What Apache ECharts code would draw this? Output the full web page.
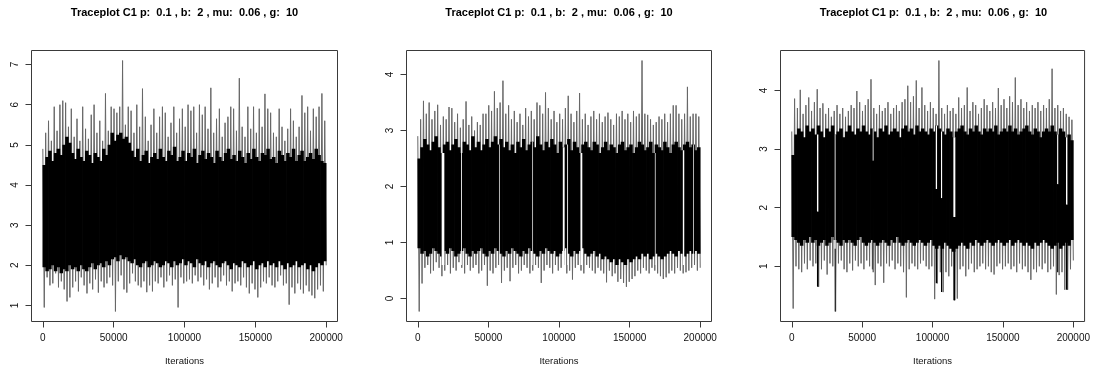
<!DOCTYPE html>
<html><head><meta charset="utf-8">
<script src="https://cdn.jsdelivr.net/npm/echarts@6/dist/echarts.min.js"></script>
<style>html,body{margin:0;padding:0;background:#fff}#c{width:1093px;height:372px}</style>
</head><body><div id="c"></div>
<script>
// ---------------- data ----------------
const titleText = 'Traceplot C1 p:  0.1 , b:  2 , mu:  0.06 , g:  10';
const xName = 'Iterations';
const totalIter = 200000;
const xTicks = [0, 50000, 100000, 150000, 200000];
const yTicks1 = [1, 2, 3, 4, 5, 6, 7];
const yTicks2 = [0, 1, 2, 3, 4];
const yTicks3 = [1, 2, 3, 4];

// outer envelope of the trace (per 2000-iteration bin): spike tops / spike bottoms
const hi1 = [4.9,5.3,5.6,5.1,5.95,5.35,6.0,6.1,6.05,5.45, 5.9,5.2,5.65,5.1,5.95,5.4,5.15,5.75,6.0,5.3,
  5.6,5.1,6.28,5.35,5.95,5.9,5.8,5.95,7.1,5.5, 5.95,5.85,5.3,6.0,5.45,6.4,5.7,5.1,5.5,5.9,
  5.3,5.7,5.95,5.8,5.2,5.55,5.95,5.3,5.65,5.9, 5.45,6.0,5.85,5.95,5.3,6.0,5.75,5.95,5.4,6.42,
  5.3,5.65,5.9,5.2,5.55,5.7,5.95,5.9,5.35,6.66, 5.45,5.2,5.95,5.4,5.95,5.3,5.9,5.45,6.27,5.9,
  5.8,5.3,5.2,5.9,5.45,5.1,5.4,5.9,5.6,5.2, 5.45,6.23,5.8,5.95,5.35,5.9,5.7,5.95,6.28,5.6];
const lo1 = [0.95,1.7,1.5,1.55,1.8,1.45,1.6,1.4,1.1,1.2, 1.45,1.6,1.35,1.7,1.5,1.3,1.55,1.4,1.65,1.32,
  1.6,1.45,1.55,1.7,1.5,0.85,1.6,1.75,1.4,1.32, 1.55,1.8,1.6,1.5,1.45,1.6,1.33,1.5,1.35,1.6,
  1.55,1.7,1.45,1.6,1.75,1.5,1.65,0.95,1.7,1.55, 1.6,1.65,1.55,1.75,1.6,1.7,1.5,1.65,1.4,1.55,
  1.7,1.45,1.6,1.75,1.5,1.6,1.35,1.55,1.6,1.5, 1.7,1.45,1.3,1.55,1.4,1.2,1.45,1.6,1.55,1.7,
  1.5,1.45,1.6,1.75,1.5,1.55,1.02,1.45,1.3,1.55, 1.4,1.3,1.5,1.35,1.25,1.18,1.4,1.5,1.35,2.0];
// dense (solid black) core of the trace (per 2000-iteration bin)
const coreHi1 = [4.5,4.7,4.85,4.6,4.8,4.9,4.75,5.0,5.2,5.05, 4.8,4.65,4.9,4.7,4.6,4.85,4.75,4.55,4.8,4.7,
  4.6,4.9,4.75,5.0,5.3,5.1,5.25,5.3,5.15,5.2, 5.05,4.85,4.7,4.9,4.6,4.75,4.85,4.55,4.7,4.8,
  4.65,4.9,4.7,4.6,4.85,4.75,4.95,4.6,4.7,4.85, 4.6,4.8,4.7,4.9,4.55,4.75,4.85,4.65,4.8,4.7,
  4.55,4.85,4.7,4.6,4.8,4.9,4.65,4.75,4.6,4.85, 4.7,4.55,4.8,4.65,4.9,4.7,4.6,4.8,4.75,4.9,
  4.65,4.7,4.55,4.85,4.75,4.6,4.8,4.7,4.9,4.6, 4.75,4.85,4.6,4.7,4.8,4.65,4.9,4.75,4.6,4.55];
const coreLo1 = [1.95,1.85,1.9,2.0,1.85,1.95,1.8,1.9,1.85,2.0, 1.9,1.95,1.85,2.0,1.9,1.85,1.95,2.05,1.9,2.0,
  2.05,1.95,2.1,2.0,2.15,2.2,2.1,2.25,2.15,2.2, 2.1,2.05,2.15,2.0,1.95,2.05,2.1,1.95,2.0,2.1,
  2.05,1.95,2.0,2.1,2.05,1.95,2.1,2.0,2.05,2.15, 2.0,2.1,2.05,1.95,2.15,2.05,2.0,2.1,1.95,2.05,
  2.1,2.0,1.95,2.05,2.1,2.0,1.9,2.05,2.0,1.95, 2.1,2.05,1.95,2.0,2.1,1.9,2.0,2.05,1.95,2.1,
  2.0,2.05,1.95,2.1,2.0,1.9,2.05,1.95,2.0,2.1, 1.95,2.0,2.05,1.9,2.0,1.85,1.95,2.05,2.0,2.1];
const stuck1 = [];

const hi2 = [2.9,3.2,3.53,3.3,3.5,3.2,3.35,3.46,3.1,3.25, 3.2,3.42,3.4,3.15,3.3,3.05,3.2,3.52,3.1,3.25,
  3.0,3.15,3.1,3.3,3.3,3.45,3.35,3.7,3.4,3.5, 3.89,3.3,3.45,3.2,3.35,3.15,3.3,3.1,3.4,3.25,
  3.35,3.2,3.5,3.45,3.3,3.68,3.4,3.2,3.35,3.15, 3.3,3.2,3.4,3.62,3.3,3.15,3.35,3.67,3.2,3.3,
  3.1,3.25,3.35,3.2,3.3,3.15,3.25,3.32,3.2,3.1, 3.3,3.25,3.35,3.2,3.3,3.15,3.35,3.25,3.3,4.25,
  3.3,3.28,3.2,3.1,3.15,3.25,3.2,3.3,3.15,3.3, 3.45,3.45,3.3,3.2,3.3,3.78,3.25,3.3,3.3,3.25];
const lo2 = [-0.23,0.27,0.55,0.6,0.45,0.5,0.65,0.55,0.4,0.5, 0.6,0.45,0.55,0.5,0.65,0.55,0.45,0.6,0.5,0.55,
  0.6,0.45,0.5,0.6,0.23,0.5,0.45,0.55,0.6,0.28, 0.5,0.55,0.31,0.55,0.6,0.45,0.5,0.6,0.55,0.45,
  0.5,0.6,0.55,0.28,0.5,0.6,0.55,0.45,0.6,0.5, 0.55,0.6,0.45,0.5,0.34,0.55,0.6,0.5,0.45,0.6,
  0.55,0.5,0.45,0.55,0.5,0.45,0.29,0.5,0.4,0.45, 0.3,0.35,0.28,0.21,0.3,0.35,0.4,0.5,0.45,0.55,
  0.5,0.45,0.55,0.5,0.45,0.4,0.35,0.38,0.45,0.5, 0.45,0.55,0.5,0.45,0.47,0.5,0.55,0.6,0.5,0.55];
const coreHi2 = [2.5,2.7,2.85,2.75,2.65,2.8,2.9,2.7,2.6,2.75, 2.8,2.65,2.75,2.85,2.7,2.6,2.8,2.75,2.65,2.9,
  2.7,2.8,2.65,2.75,2.85,2.7,2.8,2.9,2.75,2.85, 2.7,2.8,2.65,2.75,2.6,2.8,2.7,2.85,2.65,2.75,
  2.8,2.7,2.9,2.75,2.65,2.8,2.7,2.85,2.75,2.6, 2.8,2.7,2.75,2.85,2.65,2.8,2.7,2.6,2.75,2.8,
  2.7,2.65,2.8,2.75,2.6,2.7,2.8,2.65,2.75,2.7, 2.6,2.75,2.8,2.65,2.7,2.75,2.6,2.7,2.8,2.75,
  2.65,2.7,2.8,2.6,2.75,2.7,2.65,2.8,2.7,2.6, 2.75,2.8,2.7,2.65,2.75,2.8,2.7,2.75,2.65,2.7];
const coreLo2 = [0.9,0.8,0.85,0.75,0.8,0.9,0.85,0.8,0.75,0.85, 0.8,0.9,0.85,0.75,0.8,0.85,0.9,0.8,0.75,0.85,
  0.8,0.85,0.9,0.8,0.75,0.85,0.8,0.9,0.85,0.8, 0.75,0.85,0.8,0.9,0.85,0.8,0.75,0.85,0.8,0.9,
  0.85,0.8,0.75,0.85,0.8,0.9,0.85,0.8,0.85,0.75, 0.8,0.85,0.9,0.8,0.75,0.85,0.8,0.85,0.9,0.8,
  0.75,0.8,0.85,0.75,0.8,0.7,0.75,0.7,0.65,0.7, 0.6,0.7,0.65,0.6,0.7,0.65,0.7,0.75,0.7,0.8,
  0.75,0.8,0.7,0.75,0.8,0.75,0.7,0.75,0.8,0.85, 0.8,0.75,0.85,0.8,0.75,0.8,0.85,0.8,0.85,0.8];
// periods where the chain stayed in a narrow range: [startIter, endIter, low, high]
const stuck2 = [[16900,18800,0.6,0.6],[30600,31200,0.6,0.6],[57500,58000,0.6,0.6],[81100,81600,0.6,0.6],
  [102700,104000,0.6,0.6],[105800,106400,0.6,0.6],[115200,116500,0.6,0.6],[167900,168400,0.6,0.6],
  [187700,188700,0.6,0.6],[195000,195500,0.6,0.6]];

const hi3 = [3.3,3.86,3.7,4.01,3.6,3.75,3.88,3.65,3.8,4.02, 3.7,3.78,3.6,3.7,3.55,3.65,3.75,3.6,3.7,3.55,
  3.65,3.75,3.7,3.99,3.8,3.65,3.75,3.85,4.19,3.7, 3.6,3.75,3.65,3.7,3.8,3.6,3.7,3.75,3.65,3.8,
  3.85,4.08,3.8,3.9,4.17,3.7,4.05,3.75,3.65,3.8, 3.7,3.6,4.51,3.7,3.6,3.75,3.65,3.7,3.6,3.88,
  3.7,3.75,4.05,3.65,3.8,3.75,3.6,3.7,3.85,3.75, 3.65,3.8,3.7,4.04,3.75,3.85,3.7,3.9,3.8,4.22,
  3.75,3.85,3.7,3.8,3.65,3.75,3.7,3.8,3.65,3.75, 3.7,3.85,4.37,3.7,3.75,3.65,3.7,3.6,3.55,3.5];
const lo3 = [0.28,1.0,0.95,0.9,1.05,0.95,1.1,1.0,1.05,0.65, 0.95,1.1,0.86,1.05,1.0,0.23,1.05,1.1,0.95,0.9,
  1.05,0.93,1.1,1.0,1.05,0.95,1.1,1.0,0.95,0.68, 1.05,1.0,0.72,1.05,1.0,1.1,0.95,1.05,1.0,0.9,
  0.47,0.95,1.05,1.0,0.95,1.05,1.1,1.0,0.95,1.0, 0.44,0.71,0.9,0.56,0.9,0.83,1.0,0.42,0.45,0.95,
  1.0,0.83,0.95,1.05,0.9,0.95,1.0,1.05,0.95,1.0, 0.9,0.86,1.0,1.05,0.95,1.0,1.05,0.95,1.0,0.9,
  1.05,0.95,1.0,0.9,0.77,0.95,0.9,1.0,0.95,1.05, 0.9,0.95,1.0,0.52,0.85,0.9,0.6,0.6,0.95,1.1];
const coreHi3 = [2.9,3.25,3.35,3.3,3.2,3.4,3.3,3.35,3.25,3.4, 3.3,3.2,3.35,3.3,3.4,3.25,3.3,3.35,3.2,3.3,
  3.4,3.3,3.25,3.35,3.3,3.4,3.3,3.25,3.35,3.3, 3.2,3.35,3.3,3.4,3.25,3.3,3.35,3.3,3.2,3.35,
  3.4,3.3,3.35,3.25,3.4,3.3,3.35,3.3,3.25,3.35, 3.3,3.4,3.35,3.3,3.25,3.35,3.3,3.2,3.3,3.35,
  3.4,3.3,3.25,3.35,3.3,3.4,3.3,3.25,3.35,3.3, 3.35,3.3,3.4,3.25,3.3,3.35,3.3,3.4,3.3,3.35,
  3.25,3.3,3.35,3.4,3.3,3.25,3.35,3.3,3.2,3.3, 3.35,3.3,3.4,3.3,3.25,3.35,3.3,3.2,3.25,3.15];
const coreLo3 = [1.5,1.45,1.4,1.35,1.45,1.4,1.5,1.4,1.45,1.35, 1.4,1.45,1.35,1.4,1.5,1.45,1.4,1.35,1.45,1.4,
  1.45,1.4,1.35,1.45,1.5,1.4,1.35,1.4,1.45,1.4, 1.35,1.4,1.45,1.4,1.35,1.45,1.4,1.5,1.4,1.35,
  1.4,1.45,1.4,1.35,1.4,1.45,1.4,1.35,1.4,1.45, 1.35,1.3,1.35,1.3,1.4,1.35,1.3,1.25,1.3,1.35,
  1.4,1.35,1.3,1.4,1.35,1.45,1.4,1.35,1.4,1.45, 1.4,1.35,1.4,1.45,1.4,1.35,1.4,1.45,1.35,1.4,
  1.45,1.4,1.35,1.4,1.35,1.3,1.4,1.35,1.4,1.45, 1.4,1.35,1.3,1.35,1.4,1.3,1.35,1.4,1.35,1.45];
const stuck3 = [[17900,18900,0.65,1.93],[30500,31100,0.23,1.3],[57500,58100,0.9,2.8],[102300,103200,0.71,2.32],
  [106000,106800,0.56,2.16],[114800,116200,0.42,1.84],[188500,189300,0.9,2.4],[194800,195800,0.6,2.05]];

// ---------------- layout / style ----------------
const FONT = 'Liberation Sans, Arial, Helvetica, sans-serif';
const panels = [
  {hi: hi1, lo: lo1, cHi: coreHi1, cLo: coreLo1, stuck: stuck1, yTicks: yTicks1, grid: {left: 31.5, top: 50.5, width: 306, height: 271}},
  {hi: hi2, lo: lo2, cHi: coreHi2, cLo: coreLo2, stuck: stuck2, yTicks: yTicks2, grid: {left: 406.5, top: 50.5, width: 305, height: 271}},
  {hi: hi3, lo: lo3, cHi: coreHi3, cLo: coreLo3, stuck: stuck3, yTicks: yTicks3, grid: {left: 780.5, top: 50.5, width: 306, height: 271}}
];

function tracePoints(hi, lo) {
  const n = hi.length, pts = [], step = totalIter / (2 * n - 1);
  for (let i = 0; i < n; i++) { pts.push([2 * i * step, hi[i]]); pts.push([(2 * i + 1) * step, lo[i]]); }
  return pts;
}

const option = {animation: false, backgroundColor: '#fff', title: [], grid: [], xAxis: [], yAxis: [], series: []};

panels.forEach((p, k) => {
  const yMinData = Math.min(...p.lo), yMaxData = Math.max(...p.hi);
  const yr = yMaxData - yMinData;
  const g = p.grid;
  option.grid.push(Object.assign({show: true, borderColor: '#3a3a3a', borderWidth: 1, backgroundColor: 'transparent'}, g));
  option.title.push({
    text: titleText, left: g.left + g.width / 2, top: 7, textAlign: 'center', padding: 0,
    textStyle: {fontSize: 11, fontWeight: 'bold', fontFamily: FONT, color: '#000'}
  });
  option.xAxis.push({
    gridIndex: k, type: 'value', min: -0.04 * totalIter, max: 1.04 * totalIter,
    axisLine: {show: false, onZero: false}, splitLine: {show: false},
    axisTick: {show: true, length: 6, lineStyle: {color: '#3a3a3a'}, customValues: xTicks},
    axisLabel: {customValues: xTicks, margin: 12, fontSize: 10, color: '#111', fontFamily: FONT, formatter: v => String(v)},
    name: xName, nameLocation: 'middle', nameGap: 35,
    nameTextStyle: {fontSize: 9.5, color: '#111', fontFamily: FONT}
  });
  option.yAxis.push({
    gridIndex: k, type: 'value', min: yMinData - 0.04 * yr, max: yMaxData + 0.04 * yr,
    axisLine: {show: false, onZero: false}, splitLine: {show: false},
    axisTick: {show: true, length: 6, lineStyle: {color: '#3a3a3a'}, customValues: p.yTicks},
    axisLabel: {customValues: p.yTicks, rotate: 90, margin: 11, fontSize: 10, color: '#111', fontFamily: FONT, formatter: v => String(v)}
  });
  // fringe of the trace (thin spikes)
  option.series.push({
    type: 'line', xAxisIndex: k, yAxisIndex: k, data: tracePoints(p.hi, p.lo),
    showSymbol: false, symbol: 'none', silent: true, z: 2,
    lineStyle: {color: '#676767', width: 1}
  });
  // dense core of the trace
  const cw = totalIter / p.cHi.length;
  option.series.push({
    type: 'custom', xAxisIndex: k, yAxisIndex: k, silent: true, z: 3, clip: true,
    encode: {x: [0, 1], y: [2, 3]},
    data: p.cHi.map((h, i) => [i * cw, (i + 1) * cw, p.cLo[i], h]),
    renderItem: (params, api) => {
      const a = api.coord([api.value(0), api.value(3)]);
      const b = api.coord([api.value(1), api.value(2)]);
      return {type: 'rect', shape: {x: a[0] - 0.35, y: a[1], width: b[0] - a[0] + 0.7, height: b[1] - a[1]},
        style: {fill: '#000'}};
    }
  });
  // stuck periods: white where the chain did not pass, black where it stayed
  option.series.push({
    type: 'custom', xAxisIndex: k, yAxisIndex: k, silent: true, z: 4, clip: true,
    encode: {x: [0, 1], y: [2, 3]},
    data: p.stuck.map(s => {
      const bi = Math.min(p.cHi.length - 1, Math.floor(s[0] / cw));
      return [s[0], s[1], s[2], s[3], p.cHi[bi], p.cLo[bi]];
    }),
    renderItem: (params, api) => {
      const x0 = api.value(0), x1 = api.value(1), lo = api.value(2), hi = api.value(3), top = api.value(4), bot = api.value(5);
      const children = [];
      const rect = (ya, yb, fill) => {
        if (yb <= ya) return;
        const a = api.coord([x0, yb]), b = api.coord([x1, ya]);
        children.push({type: 'rect', shape: {x: a[0], y: a[1], width: b[0] - a[0], height: b[1] - a[1]}, style: {fill}});
      };
      if (top > hi) rect(hi, top, '#fff');
      if (lo > bot) rect(bot, lo, '#fff');
      rect(lo, hi, '#000');
      return {type: 'group', children};
    }
  });
});

const chart = echarts.init(document.getElementById('c'), null, {renderer: 'canvas'});
chart.setOption(option);
</script>
</body></html>
